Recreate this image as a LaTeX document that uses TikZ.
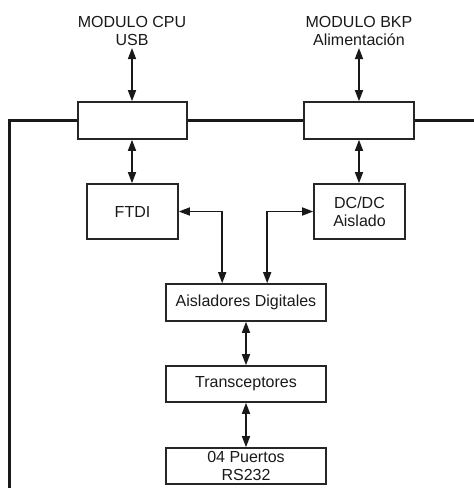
\documentclass[tikz,border=0pt]{standalone}
\usepackage{fontspec}
\setmainfont{Liberation Sans}
\usetikzlibrary{arrows.meta,calc}
\begin{document}
\begin{tikzpicture}[x=1pt,y=-1pt,
  every node/.style={font=\fontsize{16}{18}\selectfont, text=black!90},
  conn/.style={draw=black!85, line width=1.6pt, inner sep=0pt},
  link/.style={line width=1.5pt, draw=black!90, {Triangle[length=11pt,width=8pt]}-{Triangle[length=11pt,width=8pt]}},
  bus/.style={line width=2.6pt, draw=black!90}]
\useasboundingbox (0,0) rectangle (474,488);

% module labels
\node[align=center] (cpuLbl) at (132,31) {MODULO CPU\\USB};
\node[align=center] (bkpLbl) at (359,31) {MODULO BKP\\Alimentación};

% backplane connectors
\node[conn, minimum width=109pt, minimum height=37pt] (cpuConn) at (132.5,120.5) {};
\node[conn, minimum width=110pt, minimum height=37pt] (bkpConn) at (359,120.5) {};

% bus
\coordinate (busL) at (9.5,490);
\coordinate (busR) at (476,120.5);
\draw[bus] (busL) |- (cpuConn.west);
\draw[bus] (cpuConn.east) -- (bkpConn.west);
\draw[bus] (bkpConn.east) -- (busR);

% blocks
\node[conn, minimum width=91pt, minimum height=55pt] (ftdi) at (132.5,211.5) {FTDI};
\node[conn, minimum width=91pt, minimum height=55pt, align=center] (dcdc) at (359.5,211.5) {DC/DC\\Aislado};
\node[conn, minimum width=160pt, minimum height=37pt] (aisl) at (246,302.5) {Aisladores Digitales};
\node[conn, minimum width=160pt, minimum height=36pt] (trans) at (246,384) {Transceptores};
\node[conn, minimum width=160pt, minimum height=36pt, align=center] (rs) at (246,466) {04 Puertos\\RS232};

% connections
\coordinate (cpuTop) at (132,48);
\coordinate (bkpTop) at (359,48);
\draw[link] (cpuTop) -- (cpuConn.north -| cpuTop);
\draw[link] (bkpTop) -- (bkpConn.north -| bkpTop);
\draw[link] (cpuConn.south -| cpuTop) -- (ftdi.north -| cpuTop);
\draw[link] (bkpConn.south -| bkpTop) -- (dcdc.north -| bkpTop);
\draw[link] (ftdi.east) -| ($(aisl.north west)+(57,0)$);
\draw[link] (dcdc.west) -| ($(aisl.north west)+(102,0)$);
\draw[link] (aisl.south) -- (trans.north);
\draw[link] (trans.south) -- (rs.north);
\end{tikzpicture}
\end{document}
